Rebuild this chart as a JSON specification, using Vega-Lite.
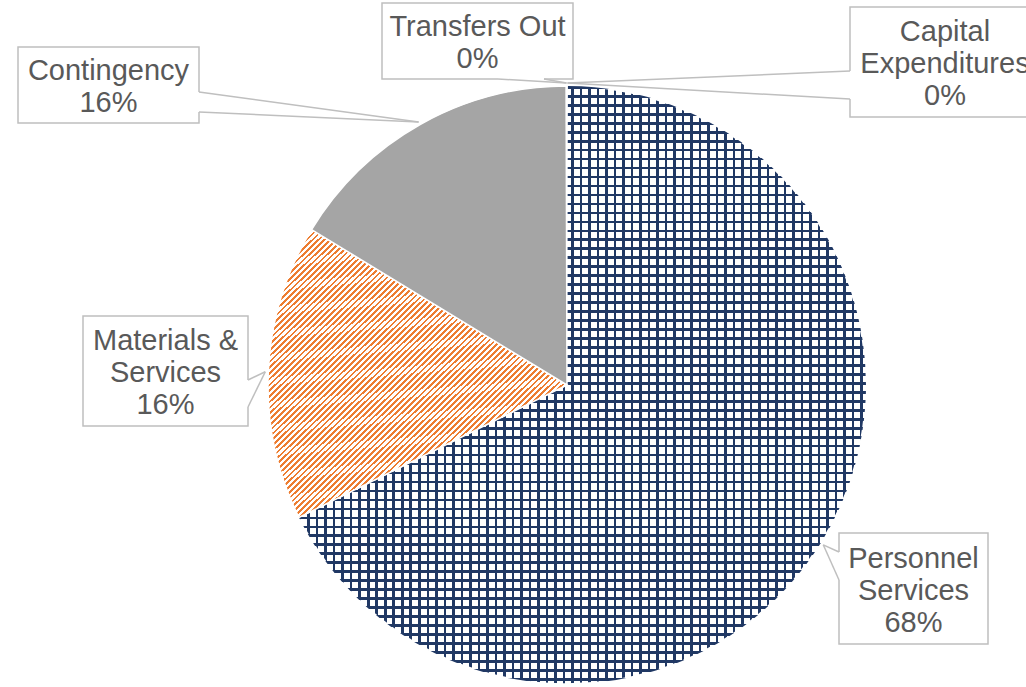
{
"$schema": "https://vega.github.io/schema/vega-lite/v6.json",
"width": 918,
"height": 604,
"padding": {"left": 108, "top": 83, "right": 0, "bottom": 0},
"autosize": {"type": "none"},
"background": "white",
"config": {"view": {"stroke": null}},
"data": {"values": [
{"category": "Capital Expenditures", "value": 0.05, "order": 1},
{"category": "Personnel Services", "value": 67.65, "order": 2},
{"category": "Materials & Services", "value": 16.0, "order": 3},
{"category": "Contingency", "value": 16.25, "order": 4},
{"category": "Transfers Out", "value": 0.05, "order": 5}
]},
"transform": [
{"stack": "value", "groupby": [], "sort": [{"field": "order", "order": "ascending"}], "offset": "normalize", "as": ["f0", "f1"]},
{"calculate": "datum.order - 1", "as": "k"},
{"calculate": "(datum.f0 + datum.f1) * PI", "as": "a"},
{"calculate": "302 * sin(datum.a)", "as": "tx"},
{"calculate": "-302 * cos(datum.a)", "as": "ty"},
{"calculate": "[378, 346.5, -401.5, -458.5, -89.5][datum.k]", "as": "bx"},
{"calculate": "[-323, 203.5, -14, -300, -344][datum.k]", "as": "by"},
{"calculate": "[190, 149, 165, 181, 191][datum.k]", "as": "bw"},
{"calculate": "[110, 111, 110, 76, 76][datum.k]", "as": "bh"},
{"calculate": "datum.bx - datum.bw / 2", "as": "bx1"},
{"calculate": "datum.bx + datum.bw / 2", "as": "bx2"},
{"calculate": "datum.by - datum.bh / 2", "as": "by1"},
{"calculate": "datum.by + datum.bh / 2", "as": "by2"},
{"calculate": "[283, 272, -319, -368, -69][datum.k]", "as": "p1x"},
{"calculate": "[-314, 167, -5, -293, -306][datum.k]", "as": "p1y"},
{"calculate": "[283, 272, -319, -368, -23][datum.k]", "as": "p2x"},
{"calculate": "[-286, 195, 22, -273, -306][datum.k]", "as": "p2y"},
{"calculate": "datum.by - (length(datum.category) > 13 ? 30 : 14)", "as": "ly"},
{"calculate": "(length(datum.category) > 13 ? slice(datum.category, 0, lastindexof(datum.category, ' ')) + '\\n' + slice(datum.category, lastindexof(datum.category, ' ') + 1) : datum.category) + '\\n' + format(datum.f1 - datum.f0, '.0%')", "as": "lbl"}
],
"layer": [
{
"transform": [{"filter": "datum.category === 'Personnel Services'"}],
"mark": {"type": "arc", "radius": 299, "stroke": "#ffffff", "strokeWidth": 1.5, "fill": {"gradient": "linear", "x1": 0, "y1": 0, "x2": 1, "y2": 0, "stops": [
{"offset":0,"color":"#203864"},{"offset":0.0045,"color":"#203864"},{"offset":0.0045,"color":"#fff"},{"offset":0.015,"color":"#fff"},
{"offset":0.015,"color":"#203864"},{"offset":0.0195,"color":"#203864"},{"offset":0.0195,"color":"#fff"},{"offset":0.03,"color":"#fff"},
{"offset":0.03,"color":"#203864"},{"offset":0.0345,"color":"#203864"},{"offset":0.0345,"color":"#fff"},{"offset":0.045,"color":"#fff"},
{"offset":0.045,"color":"#203864"},{"offset":0.0495,"color":"#203864"},{"offset":0.0495,"color":"#fff"},{"offset":0.06,"color":"#fff"},
{"offset":0.06,"color":"#203864"},{"offset":0.0645,"color":"#203864"},{"offset":0.0645,"color":"#fff"},{"offset":0.075,"color":"#fff"},
{"offset":0.075,"color":"#203864"},{"offset":0.0795,"color":"#203864"},{"offset":0.0795,"color":"#fff"},{"offset":0.09,"color":"#fff"},
{"offset":0.09,"color":"#203864"},{"offset":0.0945,"color":"#203864"},{"offset":0.0945,"color":"#fff"},{"offset":0.105,"color":"#fff"},
{"offset":0.105,"color":"#203864"},{"offset":0.1095,"color":"#203864"},{"offset":0.1095,"color":"#fff"},{"offset":0.12,"color":"#fff"},
{"offset":0.12,"color":"#203864"},{"offset":0.1245,"color":"#203864"},{"offset":0.1245,"color":"#fff"},{"offset":0.135,"color":"#fff"},
{"offset":0.135,"color":"#203864"},{"offset":0.1395,"color":"#203864"},{"offset":0.1395,"color":"#fff"},{"offset":0.15,"color":"#fff"},
{"offset":0.15,"color":"#203864"},{"offset":0.1545,"color":"#203864"},{"offset":0.1545,"color":"#fff"},{"offset":0.165,"color":"#fff"},
{"offset":0.165,"color":"#203864"},{"offset":0.1695,"color":"#203864"},{"offset":0.1695,"color":"#fff"},{"offset":0.18,"color":"#fff"},
{"offset":0.18,"color":"#203864"},{"offset":0.1845,"color":"#203864"},{"offset":0.1845,"color":"#fff"},{"offset":0.195,"color":"#fff"},
{"offset":0.195,"color":"#203864"},{"offset":0.1995,"color":"#203864"},{"offset":0.1995,"color":"#fff"},{"offset":0.21,"color":"#fff"},
{"offset":0.21,"color":"#203864"},{"offset":0.2145,"color":"#203864"},{"offset":0.2145,"color":"#fff"},{"offset":0.225,"color":"#fff"},
{"offset":0.225,"color":"#203864"},{"offset":0.2295,"color":"#203864"},{"offset":0.2295,"color":"#fff"},{"offset":0.24,"color":"#fff"},
{"offset":0.24,"color":"#203864"},{"offset":0.2445,"color":"#203864"},{"offset":0.2445,"color":"#fff"},{"offset":0.255,"color":"#fff"},
{"offset":0.255,"color":"#203864"},{"offset":0.2595,"color":"#203864"},{"offset":0.2595,"color":"#fff"},{"offset":0.27,"color":"#fff"},
{"offset":0.27,"color":"#203864"},{"offset":0.2745,"color":"#203864"},{"offset":0.2745,"color":"#fff"},{"offset":0.285,"color":"#fff"},
{"offset":0.285,"color":"#203864"},{"offset":0.2895,"color":"#203864"},{"offset":0.2895,"color":"#fff"},{"offset":0.3,"color":"#fff"},
{"offset":0.3,"color":"#203864"},{"offset":0.3045,"color":"#203864"},{"offset":0.3045,"color":"#fff"},{"offset":0.315,"color":"#fff"},
{"offset":0.315,"color":"#203864"},{"offset":0.3195,"color":"#203864"},{"offset":0.3195,"color":"#fff"},{"offset":0.33,"color":"#fff"},
{"offset":0.33,"color":"#203864"},{"offset":0.3345,"color":"#203864"},{"offset":0.3345,"color":"#fff"},{"offset":0.345,"color":"#fff"},
{"offset":0.345,"color":"#203864"},{"offset":0.3495,"color":"#203864"},{"offset":0.3495,"color":"#fff"},{"offset":0.36,"color":"#fff"},
{"offset":0.36,"color":"#203864"},{"offset":0.3645,"color":"#203864"},{"offset":0.3645,"color":"#fff"},{"offset":0.375,"color":"#fff"},
{"offset":0.375,"color":"#203864"},{"offset":0.3795,"color":"#203864"},{"offset":0.3795,"color":"#fff"},{"offset":0.39,"color":"#fff"},
{"offset":0.39,"color":"#203864"},{"offset":0.3945,"color":"#203864"},{"offset":0.3945,"color":"#fff"},{"offset":0.405,"color":"#fff"},
{"offset":0.405,"color":"#203864"},{"offset":0.4095,"color":"#203864"},{"offset":0.4095,"color":"#fff"},{"offset":0.42,"color":"#fff"},
{"offset":0.42,"color":"#203864"},{"offset":0.4245,"color":"#203864"},{"offset":0.4245,"color":"#fff"},{"offset":0.435,"color":"#fff"},
{"offset":0.435,"color":"#203864"},{"offset":0.4395,"color":"#203864"},{"offset":0.4395,"color":"#fff"},{"offset":0.45,"color":"#fff"},
{"offset":0.45,"color":"#203864"},{"offset":0.4545,"color":"#203864"},{"offset":0.4545,"color":"#fff"},{"offset":0.465,"color":"#fff"},
{"offset":0.465,"color":"#203864"},{"offset":0.4695,"color":"#203864"},{"offset":0.4695,"color":"#fff"},{"offset":0.48,"color":"#fff"},
{"offset":0.48,"color":"#203864"},{"offset":0.4845,"color":"#203864"},{"offset":0.4845,"color":"#fff"},{"offset":0.495,"color":"#fff"},
{"offset":0.495,"color":"#203864"},{"offset":0.4995,"color":"#203864"},{"offset":0.4995,"color":"#fff"},{"offset":0.51,"color":"#fff"},
{"offset":0.51,"color":"#203864"},{"offset":0.5145,"color":"#203864"},{"offset":0.5145,"color":"#fff"},{"offset":0.525,"color":"#fff"},
{"offset":0.525,"color":"#203864"},{"offset":0.5295,"color":"#203864"},{"offset":0.5295,"color":"#fff"},{"offset":0.54,"color":"#fff"},
{"offset":0.54,"color":"#203864"},{"offset":0.5445,"color":"#203864"},{"offset":0.5445,"color":"#fff"},{"offset":0.555,"color":"#fff"},
{"offset":0.555,"color":"#203864"},{"offset":0.5595,"color":"#203864"},{"offset":0.5595,"color":"#fff"},{"offset":0.57,"color":"#fff"},
{"offset":0.57,"color":"#203864"},{"offset":0.5745,"color":"#203864"},{"offset":0.5745,"color":"#fff"},{"offset":0.585,"color":"#fff"},
{"offset":0.585,"color":"#203864"},{"offset":0.5895,"color":"#203864"},{"offset":0.5895,"color":"#fff"},{"offset":0.6,"color":"#fff"},
{"offset":0.6,"color":"#203864"},{"offset":0.6045,"color":"#203864"},{"offset":0.6045,"color":"#fff"},{"offset":0.615,"color":"#fff"},
{"offset":0.615,"color":"#203864"},{"offset":0.6195,"color":"#203864"},{"offset":0.6195,"color":"#fff"},{"offset":0.63,"color":"#fff"},
{"offset":0.63,"color":"#203864"},{"offset":0.6345,"color":"#203864"},{"offset":0.6345,"color":"#fff"},{"offset":0.645,"color":"#fff"},
{"offset":0.645,"color":"#203864"},{"offset":0.6495,"color":"#203864"},{"offset":0.6495,"color":"#fff"},{"offset":0.66,"color":"#fff"},
{"offset":0.66,"color":"#203864"},{"offset":0.6645,"color":"#203864"},{"offset":0.6645,"color":"#fff"},{"offset":0.675,"color":"#fff"},
{"offset":0.675,"color":"#203864"},{"offset":0.6795,"color":"#203864"},{"offset":0.6795,"color":"#fff"},{"offset":0.69,"color":"#fff"},
{"offset":0.69,"color":"#203864"},{"offset":0.6945,"color":"#203864"},{"offset":0.6945,"color":"#fff"},{"offset":0.705,"color":"#fff"},
{"offset":0.705,"color":"#203864"},{"offset":0.7095,"color":"#203864"},{"offset":0.7095,"color":"#fff"},{"offset":0.72,"color":"#fff"},
{"offset":0.72,"color":"#203864"},{"offset":0.7245,"color":"#203864"},{"offset":0.7245,"color":"#fff"},{"offset":0.735,"color":"#fff"},
{"offset":0.735,"color":"#203864"},{"offset":0.7395,"color":"#203864"},{"offset":0.7395,"color":"#fff"},{"offset":0.75,"color":"#fff"},
{"offset":0.75,"color":"#203864"},{"offset":0.7545,"color":"#203864"},{"offset":0.7545,"color":"#fff"},{"offset":0.765,"color":"#fff"},
{"offset":0.765,"color":"#203864"},{"offset":0.7695,"color":"#203864"},{"offset":0.7695,"color":"#fff"},{"offset":0.78,"color":"#fff"},
{"offset":0.78,"color":"#203864"},{"offset":0.7845,"color":"#203864"},{"offset":0.7845,"color":"#fff"},{"offset":0.795,"color":"#fff"},
{"offset":0.795,"color":"#203864"},{"offset":0.7995,"color":"#203864"},{"offset":0.7995,"color":"#fff"},{"offset":0.81,"color":"#fff"},
{"offset":0.81,"color":"#203864"},{"offset":0.8145,"color":"#203864"},{"offset":0.8145,"color":"#fff"},{"offset":0.825,"color":"#fff"},
{"offset":0.825,"color":"#203864"},{"offset":0.8295,"color":"#203864"},{"offset":0.8295,"color":"#fff"},{"offset":0.84,"color":"#fff"},
{"offset":0.84,"color":"#203864"},{"offset":0.8445,"color":"#203864"},{"offset":0.8445,"color":"#fff"},{"offset":0.855,"color":"#fff"},
{"offset":0.855,"color":"#203864"},{"offset":0.8595,"color":"#203864"},{"offset":0.8595,"color":"#fff"},{"offset":0.87,"color":"#fff"},
{"offset":0.87,"color":"#203864"},{"offset":0.8745,"color":"#203864"},{"offset":0.8745,"color":"#fff"},{"offset":0.885,"color":"#fff"},
{"offset":0.885,"color":"#203864"},{"offset":0.8895,"color":"#203864"},{"offset":0.8895,"color":"#fff"},{"offset":0.9,"color":"#fff"},
{"offset":0.9,"color":"#203864"},{"offset":0.9045,"color":"#203864"},{"offset":0.9045,"color":"#fff"},{"offset":0.915,"color":"#fff"},
{"offset":0.915,"color":"#203864"},{"offset":0.9195,"color":"#203864"},{"offset":0.9195,"color":"#fff"},{"offset":0.93,"color":"#fff"},
{"offset":0.93,"color":"#203864"},{"offset":0.9345,"color":"#203864"},{"offset":0.9345,"color":"#fff"},{"offset":0.945,"color":"#fff"},
{"offset":0.945,"color":"#203864"},{"offset":0.9495,"color":"#203864"},{"offset":0.9495,"color":"#fff"},{"offset":0.96,"color":"#fff"},
{"offset":0.96,"color":"#203864"},{"offset":0.9645,"color":"#203864"},{"offset":0.9645,"color":"#fff"},{"offset":0.975,"color":"#fff"},
{"offset":0.975,"color":"#203864"},{"offset":0.9795,"color":"#203864"},{"offset":0.9795,"color":"#fff"},{"offset":0.99,"color":"#fff"},
{"offset":0.99,"color":"#203864"},{"offset":0.9945,"color":"#203864"},{"offset":0.9945,"color":"#fff"},{"offset":1,"color":"#fff"}
]}},
"encoding": {"theta": {"field": "f0", "type": "quantitative", "scale": {"domain": [0, 1]}}, "theta2": {"field": "f1"}}
},
{
"transform": [{"filter": "datum.category === 'Personnel Services'"}],
"mark": {"type": "arc", "radius": 299, "fill": {"gradient": "linear", "x1": 0, "y1": 0, "x2": 0, "y2": 1, "stops": [
{"offset":0,"color":"#203864"},{"offset":0.0045,"color":"#203864"},{"offset":0.0045,"color":"#0000"},{"offset":0.015,"color":"#0000"},
{"offset":0.015,"color":"#203864"},{"offset":0.0195,"color":"#203864"},{"offset":0.0195,"color":"#0000"},{"offset":0.03,"color":"#0000"},
{"offset":0.03,"color":"#203864"},{"offset":0.0345,"color":"#203864"},{"offset":0.0345,"color":"#0000"},{"offset":0.045,"color":"#0000"},
{"offset":0.045,"color":"#203864"},{"offset":0.0495,"color":"#203864"},{"offset":0.0495,"color":"#0000"},{"offset":0.06,"color":"#0000"},
{"offset":0.06,"color":"#203864"},{"offset":0.0645,"color":"#203864"},{"offset":0.0645,"color":"#0000"},{"offset":0.075,"color":"#0000"},
{"offset":0.075,"color":"#203864"},{"offset":0.0795,"color":"#203864"},{"offset":0.0795,"color":"#0000"},{"offset":0.09,"color":"#0000"},
{"offset":0.09,"color":"#203864"},{"offset":0.0945,"color":"#203864"},{"offset":0.0945,"color":"#0000"},{"offset":0.105,"color":"#0000"},
{"offset":0.105,"color":"#203864"},{"offset":0.1095,"color":"#203864"},{"offset":0.1095,"color":"#0000"},{"offset":0.12,"color":"#0000"},
{"offset":0.12,"color":"#203864"},{"offset":0.1245,"color":"#203864"},{"offset":0.1245,"color":"#0000"},{"offset":0.135,"color":"#0000"},
{"offset":0.135,"color":"#203864"},{"offset":0.1395,"color":"#203864"},{"offset":0.1395,"color":"#0000"},{"offset":0.15,"color":"#0000"},
{"offset":0.15,"color":"#203864"},{"offset":0.1545,"color":"#203864"},{"offset":0.1545,"color":"#0000"},{"offset":0.165,"color":"#0000"},
{"offset":0.165,"color":"#203864"},{"offset":0.1695,"color":"#203864"},{"offset":0.1695,"color":"#0000"},{"offset":0.18,"color":"#0000"},
{"offset":0.18,"color":"#203864"},{"offset":0.1845,"color":"#203864"},{"offset":0.1845,"color":"#0000"},{"offset":0.195,"color":"#0000"},
{"offset":0.195,"color":"#203864"},{"offset":0.1995,"color":"#203864"},{"offset":0.1995,"color":"#0000"},{"offset":0.21,"color":"#0000"},
{"offset":0.21,"color":"#203864"},{"offset":0.2145,"color":"#203864"},{"offset":0.2145,"color":"#0000"},{"offset":0.225,"color":"#0000"},
{"offset":0.225,"color":"#203864"},{"offset":0.2295,"color":"#203864"},{"offset":0.2295,"color":"#0000"},{"offset":0.24,"color":"#0000"},
{"offset":0.24,"color":"#203864"},{"offset":0.2445,"color":"#203864"},{"offset":0.2445,"color":"#0000"},{"offset":0.255,"color":"#0000"},
{"offset":0.255,"color":"#203864"},{"offset":0.2595,"color":"#203864"},{"offset":0.2595,"color":"#0000"},{"offset":0.27,"color":"#0000"},
{"offset":0.27,"color":"#203864"},{"offset":0.2745,"color":"#203864"},{"offset":0.2745,"color":"#0000"},{"offset":0.285,"color":"#0000"},
{"offset":0.285,"color":"#203864"},{"offset":0.2895,"color":"#203864"},{"offset":0.2895,"color":"#0000"},{"offset":0.3,"color":"#0000"},
{"offset":0.3,"color":"#203864"},{"offset":0.3045,"color":"#203864"},{"offset":0.3045,"color":"#0000"},{"offset":0.315,"color":"#0000"},
{"offset":0.315,"color":"#203864"},{"offset":0.3195,"color":"#203864"},{"offset":0.3195,"color":"#0000"},{"offset":0.33,"color":"#0000"},
{"offset":0.33,"color":"#203864"},{"offset":0.3345,"color":"#203864"},{"offset":0.3345,"color":"#0000"},{"offset":0.345,"color":"#0000"},
{"offset":0.345,"color":"#203864"},{"offset":0.3495,"color":"#203864"},{"offset":0.3495,"color":"#0000"},{"offset":0.36,"color":"#0000"},
{"offset":0.36,"color":"#203864"},{"offset":0.3645,"color":"#203864"},{"offset":0.3645,"color":"#0000"},{"offset":0.375,"color":"#0000"},
{"offset":0.375,"color":"#203864"},{"offset":0.3795,"color":"#203864"},{"offset":0.3795,"color":"#0000"},{"offset":0.39,"color":"#0000"},
{"offset":0.39,"color":"#203864"},{"offset":0.3945,"color":"#203864"},{"offset":0.3945,"color":"#0000"},{"offset":0.405,"color":"#0000"},
{"offset":0.405,"color":"#203864"},{"offset":0.4095,"color":"#203864"},{"offset":0.4095,"color":"#0000"},{"offset":0.42,"color":"#0000"},
{"offset":0.42,"color":"#203864"},{"offset":0.4245,"color":"#203864"},{"offset":0.4245,"color":"#0000"},{"offset":0.435,"color":"#0000"},
{"offset":0.435,"color":"#203864"},{"offset":0.4395,"color":"#203864"},{"offset":0.4395,"color":"#0000"},{"offset":0.45,"color":"#0000"},
{"offset":0.45,"color":"#203864"},{"offset":0.4545,"color":"#203864"},{"offset":0.4545,"color":"#0000"},{"offset":0.465,"color":"#0000"},
{"offset":0.465,"color":"#203864"},{"offset":0.4695,"color":"#203864"},{"offset":0.4695,"color":"#0000"},{"offset":0.48,"color":"#0000"},
{"offset":0.48,"color":"#203864"},{"offset":0.4845,"color":"#203864"},{"offset":0.4845,"color":"#0000"},{"offset":0.495,"color":"#0000"},
{"offset":0.495,"color":"#203864"},{"offset":0.4995,"color":"#203864"},{"offset":0.4995,"color":"#0000"},{"offset":0.51,"color":"#0000"},
{"offset":0.51,"color":"#203864"},{"offset":0.5145,"color":"#203864"},{"offset":0.5145,"color":"#0000"},{"offset":0.525,"color":"#0000"},
{"offset":0.525,"color":"#203864"},{"offset":0.5295,"color":"#203864"},{"offset":0.5295,"color":"#0000"},{"offset":0.54,"color":"#0000"},
{"offset":0.54,"color":"#203864"},{"offset":0.5445,"color":"#203864"},{"offset":0.5445,"color":"#0000"},{"offset":0.555,"color":"#0000"},
{"offset":0.555,"color":"#203864"},{"offset":0.5595,"color":"#203864"},{"offset":0.5595,"color":"#0000"},{"offset":0.57,"color":"#0000"},
{"offset":0.57,"color":"#203864"},{"offset":0.5745,"color":"#203864"},{"offset":0.5745,"color":"#0000"},{"offset":0.585,"color":"#0000"},
{"offset":0.585,"color":"#203864"},{"offset":0.5895,"color":"#203864"},{"offset":0.5895,"color":"#0000"},{"offset":0.6,"color":"#0000"},
{"offset":0.6,"color":"#203864"},{"offset":0.6045,"color":"#203864"},{"offset":0.6045,"color":"#0000"},{"offset":0.615,"color":"#0000"},
{"offset":0.615,"color":"#203864"},{"offset":0.6195,"color":"#203864"},{"offset":0.6195,"color":"#0000"},{"offset":0.63,"color":"#0000"},
{"offset":0.63,"color":"#203864"},{"offset":0.6345,"color":"#203864"},{"offset":0.6345,"color":"#0000"},{"offset":0.645,"color":"#0000"},
{"offset":0.645,"color":"#203864"},{"offset":0.6495,"color":"#203864"},{"offset":0.6495,"color":"#0000"},{"offset":0.66,"color":"#0000"},
{"offset":0.66,"color":"#203864"},{"offset":0.6645,"color":"#203864"},{"offset":0.6645,"color":"#0000"},{"offset":0.675,"color":"#0000"},
{"offset":0.675,"color":"#203864"},{"offset":0.6795,"color":"#203864"},{"offset":0.6795,"color":"#0000"},{"offset":0.69,"color":"#0000"},
{"offset":0.69,"color":"#203864"},{"offset":0.6945,"color":"#203864"},{"offset":0.6945,"color":"#0000"},{"offset":0.705,"color":"#0000"},
{"offset":0.705,"color":"#203864"},{"offset":0.7095,"color":"#203864"},{"offset":0.7095,"color":"#0000"},{"offset":0.72,"color":"#0000"},
{"offset":0.72,"color":"#203864"},{"offset":0.7245,"color":"#203864"},{"offset":0.7245,"color":"#0000"},{"offset":0.735,"color":"#0000"},
{"offset":0.735,"color":"#203864"},{"offset":0.7395,"color":"#203864"},{"offset":0.7395,"color":"#0000"},{"offset":0.75,"color":"#0000"},
{"offset":0.75,"color":"#203864"},{"offset":0.7545,"color":"#203864"},{"offset":0.7545,"color":"#0000"},{"offset":0.765,"color":"#0000"},
{"offset":0.765,"color":"#203864"},{"offset":0.7695,"color":"#203864"},{"offset":0.7695,"color":"#0000"},{"offset":0.78,"color":"#0000"},
{"offset":0.78,"color":"#203864"},{"offset":0.7845,"color":"#203864"},{"offset":0.7845,"color":"#0000"},{"offset":0.795,"color":"#0000"},
{"offset":0.795,"color":"#203864"},{"offset":0.7995,"color":"#203864"},{"offset":0.7995,"color":"#0000"},{"offset":0.81,"color":"#0000"},
{"offset":0.81,"color":"#203864"},{"offset":0.8145,"color":"#203864"},{"offset":0.8145,"color":"#0000"},{"offset":0.825,"color":"#0000"},
{"offset":0.825,"color":"#203864"},{"offset":0.8295,"color":"#203864"},{"offset":0.8295,"color":"#0000"},{"offset":0.84,"color":"#0000"},
{"offset":0.84,"color":"#203864"},{"offset":0.8445,"color":"#203864"},{"offset":0.8445,"color":"#0000"},{"offset":0.855,"color":"#0000"},
{"offset":0.855,"color":"#203864"},{"offset":0.8595,"color":"#203864"},{"offset":0.8595,"color":"#0000"},{"offset":0.87,"color":"#0000"},
{"offset":0.87,"color":"#203864"},{"offset":0.8745,"color":"#203864"},{"offset":0.8745,"color":"#0000"},{"offset":0.885,"color":"#0000"},
{"offset":0.885,"color":"#203864"},{"offset":0.8895,"color":"#203864"},{"offset":0.8895,"color":"#0000"},{"offset":0.9,"color":"#0000"},
{"offset":0.9,"color":"#203864"},{"offset":0.9045,"color":"#203864"},{"offset":0.9045,"color":"#0000"},{"offset":0.915,"color":"#0000"},
{"offset":0.915,"color":"#203864"},{"offset":0.9195,"color":"#203864"},{"offset":0.9195,"color":"#0000"},{"offset":0.93,"color":"#0000"},
{"offset":0.93,"color":"#203864"},{"offset":0.9345,"color":"#203864"},{"offset":0.9345,"color":"#0000"},{"offset":0.945,"color":"#0000"},
{"offset":0.945,"color":"#203864"},{"offset":0.9495,"color":"#203864"},{"offset":0.9495,"color":"#0000"},{"offset":0.96,"color":"#0000"},
{"offset":0.96,"color":"#203864"},{"offset":0.9645,"color":"#203864"},{"offset":0.9645,"color":"#0000"},{"offset":0.975,"color":"#0000"},
{"offset":0.975,"color":"#203864"},{"offset":0.9795,"color":"#203864"},{"offset":0.9795,"color":"#0000"},{"offset":0.99,"color":"#0000"},
{"offset":0.99,"color":"#203864"},{"offset":0.9945,"color":"#203864"},{"offset":0.9945,"color":"#0000"},{"offset":1,"color":"#0000"}
]}},
"encoding": {"theta": {"field": "f0", "type": "quantitative", "scale": {"domain": [0, 1]}}, "theta2": {"field": "f1"}}
},
{
"transform": [{"filter": "datum.category === 'Materials & Services'"}],
"mark": {"type": "arc", "radius": 299, "stroke": "#ffffff", "strokeWidth": 1.5, "fill": {"gradient": "linear", "x1": 0, "y1": 0, "x2": 1, "y2": 1, "stops": [
{"offset":0,"color":"#ed7d31"},{"offset":0.0045,"color":"#ed7d31"},{"offset":0.0045,"color":"#fff"},{"offset":0.01,"color":"#fff"},
{"offset":0.01,"color":"#ed7d31"},{"offset":0.0145,"color":"#ed7d31"},{"offset":0.0145,"color":"#fff"},{"offset":0.02,"color":"#fff"},
{"offset":0.02,"color":"#ed7d31"},{"offset":0.0245,"color":"#ed7d31"},{"offset":0.0245,"color":"#fff"},{"offset":0.03,"color":"#fff"},
{"offset":0.03,"color":"#ed7d31"},{"offset":0.0345,"color":"#ed7d31"},{"offset":0.0345,"color":"#fff"},{"offset":0.04,"color":"#fff"},
{"offset":0.04,"color":"#ed7d31"},{"offset":0.0445,"color":"#ed7d31"},{"offset":0.0445,"color":"#fff"},{"offset":0.05,"color":"#fff"},
{"offset":0.05,"color":"#ed7d31"},{"offset":0.0545,"color":"#ed7d31"},{"offset":0.0545,"color":"#fff"},{"offset":0.06,"color":"#fff"},
{"offset":0.06,"color":"#ed7d31"},{"offset":0.0645,"color":"#ed7d31"},{"offset":0.0645,"color":"#fff"},{"offset":0.07,"color":"#fff"},
{"offset":0.07,"color":"#ed7d31"},{"offset":0.0745,"color":"#ed7d31"},{"offset":0.0745,"color":"#fff"},{"offset":0.08,"color":"#fff"},
{"offset":0.08,"color":"#ed7d31"},{"offset":0.0845,"color":"#ed7d31"},{"offset":0.0845,"color":"#fff"},{"offset":0.09,"color":"#fff"},
{"offset":0.09,"color":"#ed7d31"},{"offset":0.0945,"color":"#ed7d31"},{"offset":0.0945,"color":"#fff"},{"offset":0.1,"color":"#fff"},
{"offset":0.1,"color":"#ed7d31"},{"offset":0.1045,"color":"#ed7d31"},{"offset":0.1045,"color":"#fff"},{"offset":0.11,"color":"#fff"},
{"offset":0.11,"color":"#ed7d31"},{"offset":0.1145,"color":"#ed7d31"},{"offset":0.1145,"color":"#fff"},{"offset":0.12,"color":"#fff"},
{"offset":0.12,"color":"#ed7d31"},{"offset":0.1245,"color":"#ed7d31"},{"offset":0.1245,"color":"#fff"},{"offset":0.13,"color":"#fff"},
{"offset":0.13,"color":"#ed7d31"},{"offset":0.1345,"color":"#ed7d31"},{"offset":0.1345,"color":"#fff"},{"offset":0.14,"color":"#fff"},
{"offset":0.14,"color":"#ed7d31"},{"offset":0.1445,"color":"#ed7d31"},{"offset":0.1445,"color":"#fff"},{"offset":0.15,"color":"#fff"},
{"offset":0.15,"color":"#ed7d31"},{"offset":0.1545,"color":"#ed7d31"},{"offset":0.1545,"color":"#fff"},{"offset":0.16,"color":"#fff"},
{"offset":0.16,"color":"#ed7d31"},{"offset":0.1645,"color":"#ed7d31"},{"offset":0.1645,"color":"#fff"},{"offset":0.17,"color":"#fff"},
{"offset":0.17,"color":"#ed7d31"},{"offset":0.1745,"color":"#ed7d31"},{"offset":0.1745,"color":"#fff"},{"offset":0.18,"color":"#fff"},
{"offset":0.18,"color":"#ed7d31"},{"offset":0.1845,"color":"#ed7d31"},{"offset":0.1845,"color":"#fff"},{"offset":0.19,"color":"#fff"},
{"offset":0.19,"color":"#ed7d31"},{"offset":0.1945,"color":"#ed7d31"},{"offset":0.1945,"color":"#fff"},{"offset":0.2,"color":"#fff"},
{"offset":0.2,"color":"#ed7d31"},{"offset":0.2045,"color":"#ed7d31"},{"offset":0.2045,"color":"#fff"},{"offset":0.21,"color":"#fff"},
{"offset":0.21,"color":"#ed7d31"},{"offset":0.2145,"color":"#ed7d31"},{"offset":0.2145,"color":"#fff"},{"offset":0.22,"color":"#fff"},
{"offset":0.22,"color":"#ed7d31"},{"offset":0.2245,"color":"#ed7d31"},{"offset":0.2245,"color":"#fff"},{"offset":0.23,"color":"#fff"},
{"offset":0.23,"color":"#ed7d31"},{"offset":0.2345,"color":"#ed7d31"},{"offset":0.2345,"color":"#fff"},{"offset":0.24,"color":"#fff"},
{"offset":0.24,"color":"#ed7d31"},{"offset":0.2445,"color":"#ed7d31"},{"offset":0.2445,"color":"#fff"},{"offset":0.25,"color":"#fff"},
{"offset":0.25,"color":"#ed7d31"},{"offset":0.2545,"color":"#ed7d31"},{"offset":0.2545,"color":"#fff"},{"offset":0.26,"color":"#fff"},
{"offset":0.26,"color":"#ed7d31"},{"offset":0.2645,"color":"#ed7d31"},{"offset":0.2645,"color":"#fff"},{"offset":0.27,"color":"#fff"},
{"offset":0.27,"color":"#ed7d31"},{"offset":0.2745,"color":"#ed7d31"},{"offset":0.2745,"color":"#fff"},{"offset":0.28,"color":"#fff"},
{"offset":0.28,"color":"#ed7d31"},{"offset":0.2845,"color":"#ed7d31"},{"offset":0.2845,"color":"#fff"},{"offset":0.29,"color":"#fff"},
{"offset":0.29,"color":"#ed7d31"},{"offset":0.2945,"color":"#ed7d31"},{"offset":0.2945,"color":"#fff"},{"offset":0.3,"color":"#fff"},
{"offset":0.3,"color":"#ed7d31"},{"offset":0.3045,"color":"#ed7d31"},{"offset":0.3045,"color":"#fff"},{"offset":0.31,"color":"#fff"},
{"offset":0.31,"color":"#ed7d31"},{"offset":0.3145,"color":"#ed7d31"},{"offset":0.3145,"color":"#fff"},{"offset":0.32,"color":"#fff"},
{"offset":0.32,"color":"#ed7d31"},{"offset":0.3245,"color":"#ed7d31"},{"offset":0.3245,"color":"#fff"},{"offset":0.33,"color":"#fff"},
{"offset":0.33,"color":"#ed7d31"},{"offset":0.3345,"color":"#ed7d31"},{"offset":0.3345,"color":"#fff"},{"offset":0.34,"color":"#fff"},
{"offset":0.34,"color":"#ed7d31"},{"offset":0.3445,"color":"#ed7d31"},{"offset":0.3445,"color":"#fff"},{"offset":0.35,"color":"#fff"},
{"offset":0.35,"color":"#ed7d31"},{"offset":0.3545,"color":"#ed7d31"},{"offset":0.3545,"color":"#fff"},{"offset":0.36,"color":"#fff"},
{"offset":0.36,"color":"#ed7d31"},{"offset":0.3645,"color":"#ed7d31"},{"offset":0.3645,"color":"#fff"},{"offset":0.37,"color":"#fff"},
{"offset":0.37,"color":"#ed7d31"},{"offset":0.3745,"color":"#ed7d31"},{"offset":0.3745,"color":"#fff"},{"offset":0.38,"color":"#fff"},
{"offset":0.38,"color":"#ed7d31"},{"offset":0.3845,"color":"#ed7d31"},{"offset":0.3845,"color":"#fff"},{"offset":0.39,"color":"#fff"},
{"offset":0.39,"color":"#ed7d31"},{"offset":0.3945,"color":"#ed7d31"},{"offset":0.3945,"color":"#fff"},{"offset":0.4,"color":"#fff"},
{"offset":0.4,"color":"#ed7d31"},{"offset":0.4045,"color":"#ed7d31"},{"offset":0.4045,"color":"#fff"},{"offset":0.41,"color":"#fff"},
{"offset":0.41,"color":"#ed7d31"},{"offset":0.4145,"color":"#ed7d31"},{"offset":0.4145,"color":"#fff"},{"offset":0.42,"color":"#fff"},
{"offset":0.42,"color":"#ed7d31"},{"offset":0.4245,"color":"#ed7d31"},{"offset":0.4245,"color":"#fff"},{"offset":0.43,"color":"#fff"},
{"offset":0.43,"color":"#ed7d31"},{"offset":0.4345,"color":"#ed7d31"},{"offset":0.4345,"color":"#fff"},{"offset":0.44,"color":"#fff"},
{"offset":0.44,"color":"#ed7d31"},{"offset":0.4445,"color":"#ed7d31"},{"offset":0.4445,"color":"#fff"},{"offset":0.45,"color":"#fff"},
{"offset":0.45,"color":"#ed7d31"},{"offset":0.4545,"color":"#ed7d31"},{"offset":0.4545,"color":"#fff"},{"offset":0.46,"color":"#fff"},
{"offset":0.46,"color":"#ed7d31"},{"offset":0.4645,"color":"#ed7d31"},{"offset":0.4645,"color":"#fff"},{"offset":0.47,"color":"#fff"},
{"offset":0.47,"color":"#ed7d31"},{"offset":0.4745,"color":"#ed7d31"},{"offset":0.4745,"color":"#fff"},{"offset":0.48,"color":"#fff"},
{"offset":0.48,"color":"#ed7d31"},{"offset":0.4845,"color":"#ed7d31"},{"offset":0.4845,"color":"#fff"},{"offset":0.49,"color":"#fff"},
{"offset":0.49,"color":"#ed7d31"},{"offset":0.4945,"color":"#ed7d31"},{"offset":0.4945,"color":"#fff"},{"offset":0.5,"color":"#fff"},
{"offset":0.5,"color":"#ed7d31"},{"offset":0.5045,"color":"#ed7d31"},{"offset":0.5045,"color":"#fff"},{"offset":0.51,"color":"#fff"},
{"offset":0.51,"color":"#ed7d31"},{"offset":0.5145,"color":"#ed7d31"},{"offset":0.5145,"color":"#fff"},{"offset":0.52,"color":"#fff"},
{"offset":0.52,"color":"#ed7d31"},{"offset":0.5245,"color":"#ed7d31"},{"offset":0.5245,"color":"#fff"},{"offset":0.53,"color":"#fff"},
{"offset":0.53,"color":"#ed7d31"},{"offset":0.5345,"color":"#ed7d31"},{"offset":0.5345,"color":"#fff"},{"offset":0.54,"color":"#fff"},
{"offset":0.54,"color":"#ed7d31"},{"offset":0.5445,"color":"#ed7d31"},{"offset":0.5445,"color":"#fff"},{"offset":0.55,"color":"#fff"},
{"offset":0.55,"color":"#ed7d31"},{"offset":0.5545,"color":"#ed7d31"},{"offset":0.5545,"color":"#fff"},{"offset":0.56,"color":"#fff"},
{"offset":0.56,"color":"#ed7d31"},{"offset":0.5645,"color":"#ed7d31"},{"offset":0.5645,"color":"#fff"},{"offset":0.57,"color":"#fff"},
{"offset":0.57,"color":"#ed7d31"},{"offset":0.5745,"color":"#ed7d31"},{"offset":0.5745,"color":"#fff"},{"offset":0.58,"color":"#fff"},
{"offset":0.58,"color":"#ed7d31"},{"offset":0.5845,"color":"#ed7d31"},{"offset":0.5845,"color":"#fff"},{"offset":0.59,"color":"#fff"},
{"offset":0.59,"color":"#ed7d31"},{"offset":0.5945,"color":"#ed7d31"},{"offset":0.5945,"color":"#fff"},{"offset":0.6,"color":"#fff"},
{"offset":0.6,"color":"#ed7d31"},{"offset":0.6045,"color":"#ed7d31"},{"offset":0.6045,"color":"#fff"},{"offset":0.61,"color":"#fff"},
{"offset":0.61,"color":"#ed7d31"},{"offset":0.6145,"color":"#ed7d31"},{"offset":0.6145,"color":"#fff"},{"offset":0.62,"color":"#fff"},
{"offset":0.62,"color":"#ed7d31"},{"offset":0.6245,"color":"#ed7d31"},{"offset":0.6245,"color":"#fff"},{"offset":0.63,"color":"#fff"},
{"offset":0.63,"color":"#ed7d31"},{"offset":0.6345,"color":"#ed7d31"},{"offset":0.6345,"color":"#fff"},{"offset":0.64,"color":"#fff"},
{"offset":0.64,"color":"#ed7d31"},{"offset":0.6445,"color":"#ed7d31"},{"offset":0.6445,"color":"#fff"},{"offset":0.65,"color":"#fff"},
{"offset":0.65,"color":"#ed7d31"},{"offset":0.6545,"color":"#ed7d31"},{"offset":0.6545,"color":"#fff"},{"offset":0.66,"color":"#fff"},
{"offset":0.66,"color":"#ed7d31"},{"offset":0.6645,"color":"#ed7d31"},{"offset":0.6645,"color":"#fff"},{"offset":0.67,"color":"#fff"},
{"offset":0.67,"color":"#ed7d31"},{"offset":0.6745,"color":"#ed7d31"},{"offset":0.6745,"color":"#fff"},{"offset":0.68,"color":"#fff"},
{"offset":0.68,"color":"#ed7d31"},{"offset":0.6845,"color":"#ed7d31"},{"offset":0.6845,"color":"#fff"},{"offset":0.69,"color":"#fff"},
{"offset":0.69,"color":"#ed7d31"},{"offset":0.6945,"color":"#ed7d31"},{"offset":0.6945,"color":"#fff"},{"offset":0.7,"color":"#fff"},
{"offset":0.7,"color":"#ed7d31"},{"offset":0.7045,"color":"#ed7d31"},{"offset":0.7045,"color":"#fff"},{"offset":0.71,"color":"#fff"},
{"offset":0.71,"color":"#ed7d31"},{"offset":0.7145,"color":"#ed7d31"},{"offset":0.7145,"color":"#fff"},{"offset":0.72,"color":"#fff"},
{"offset":0.72,"color":"#ed7d31"},{"offset":0.7245,"color":"#ed7d31"},{"offset":0.7245,"color":"#fff"},{"offset":0.73,"color":"#fff"},
{"offset":0.73,"color":"#ed7d31"},{"offset":0.7345,"color":"#ed7d31"},{"offset":0.7345,"color":"#fff"},{"offset":0.74,"color":"#fff"},
{"offset":0.74,"color":"#ed7d31"},{"offset":0.7445,"color":"#ed7d31"},{"offset":0.7445,"color":"#fff"},{"offset":0.75,"color":"#fff"},
{"offset":0.75,"color":"#ed7d31"},{"offset":0.7545,"color":"#ed7d31"},{"offset":0.7545,"color":"#fff"},{"offset":0.76,"color":"#fff"},
{"offset":0.76,"color":"#ed7d31"},{"offset":0.7645,"color":"#ed7d31"},{"offset":0.7645,"color":"#fff"},{"offset":0.77,"color":"#fff"},
{"offset":0.77,"color":"#ed7d31"},{"offset":0.7745,"color":"#ed7d31"},{"offset":0.7745,"color":"#fff"},{"offset":0.78,"color":"#fff"},
{"offset":0.78,"color":"#ed7d31"},{"offset":0.7845,"color":"#ed7d31"},{"offset":0.7845,"color":"#fff"},{"offset":0.79,"color":"#fff"},
{"offset":0.79,"color":"#ed7d31"},{"offset":0.7945,"color":"#ed7d31"},{"offset":0.7945,"color":"#fff"},{"offset":0.8,"color":"#fff"},
{"offset":0.8,"color":"#ed7d31"},{"offset":0.8045,"color":"#ed7d31"},{"offset":0.8045,"color":"#fff"},{"offset":0.81,"color":"#fff"},
{"offset":0.81,"color":"#ed7d31"},{"offset":0.8145,"color":"#ed7d31"},{"offset":0.8145,"color":"#fff"},{"offset":0.82,"color":"#fff"},
{"offset":0.82,"color":"#ed7d31"},{"offset":0.8245,"color":"#ed7d31"},{"offset":0.8245,"color":"#fff"},{"offset":0.83,"color":"#fff"},
{"offset":0.83,"color":"#ed7d31"},{"offset":0.8345,"color":"#ed7d31"},{"offset":0.8345,"color":"#fff"},{"offset":0.84,"color":"#fff"},
{"offset":0.84,"color":"#ed7d31"},{"offset":0.8445,"color":"#ed7d31"},{"offset":0.8445,"color":"#fff"},{"offset":0.85,"color":"#fff"},
{"offset":0.85,"color":"#ed7d31"},{"offset":0.8545,"color":"#ed7d31"},{"offset":0.8545,"color":"#fff"},{"offset":0.86,"color":"#fff"},
{"offset":0.86,"color":"#ed7d31"},{"offset":0.8645,"color":"#ed7d31"},{"offset":0.8645,"color":"#fff"},{"offset":0.87,"color":"#fff"},
{"offset":0.87,"color":"#ed7d31"},{"offset":0.8745,"color":"#ed7d31"},{"offset":0.8745,"color":"#fff"},{"offset":0.88,"color":"#fff"},
{"offset":0.88,"color":"#ed7d31"},{"offset":0.8845,"color":"#ed7d31"},{"offset":0.8845,"color":"#fff"},{"offset":0.89,"color":"#fff"},
{"offset":0.89,"color":"#ed7d31"},{"offset":0.8945,"color":"#ed7d31"},{"offset":0.8945,"color":"#fff"},{"offset":0.9,"color":"#fff"},
{"offset":0.9,"color":"#ed7d31"},{"offset":0.9045,"color":"#ed7d31"},{"offset":0.9045,"color":"#fff"},{"offset":0.91,"color":"#fff"},
{"offset":0.91,"color":"#ed7d31"},{"offset":0.9145,"color":"#ed7d31"},{"offset":0.9145,"color":"#fff"},{"offset":0.92,"color":"#fff"},
{"offset":0.92,"color":"#ed7d31"},{"offset":0.9245,"color":"#ed7d31"},{"offset":0.9245,"color":"#fff"},{"offset":0.93,"color":"#fff"},
{"offset":0.93,"color":"#ed7d31"},{"offset":0.9345,"color":"#ed7d31"},{"offset":0.9345,"color":"#fff"},{"offset":0.94,"color":"#fff"},
{"offset":0.94,"color":"#ed7d31"},{"offset":0.9445,"color":"#ed7d31"},{"offset":0.9445,"color":"#fff"},{"offset":0.95,"color":"#fff"},
{"offset":0.95,"color":"#ed7d31"},{"offset":0.9545,"color":"#ed7d31"},{"offset":0.9545,"color":"#fff"},{"offset":0.96,"color":"#fff"},
{"offset":0.96,"color":"#ed7d31"},{"offset":0.9645,"color":"#ed7d31"},{"offset":0.9645,"color":"#fff"},{"offset":0.97,"color":"#fff"},
{"offset":0.97,"color":"#ed7d31"},{"offset":0.9745,"color":"#ed7d31"},{"offset":0.9745,"color":"#fff"},{"offset":0.98,"color":"#fff"},
{"offset":0.98,"color":"#ed7d31"},{"offset":0.9845,"color":"#ed7d31"},{"offset":0.9845,"color":"#fff"},{"offset":0.99,"color":"#fff"},
{"offset":0.99,"color":"#ed7d31"},{"offset":0.9945,"color":"#ed7d31"},{"offset":0.9945,"color":"#fff"},{"offset":1,"color":"#fff"}
]}},
"encoding": {"theta": {"field": "f0", "type": "quantitative", "scale": {"domain": [0, 1]}}, "theta2": {"field": "f1"}}
},
{
"transform": [{"filter": "datum.category === 'Contingency'"}],
"mark": {"type": "arc", "radius": 299, "stroke": "#ffffff", "strokeWidth": 1.5, "fill": "#a5a5a5"},
"encoding": {"theta": {"field": "f0", "type": "quantitative", "scale": {"domain": [0, 1]}}, "theta2": {"field": "f1"}}
},
{
"mark": {"type": "rect", "fill": "#ffffff", "stroke": "#bfbfbf", "strokeWidth": 1.5},
"encoding": {
"x": {"field": "bx1", "type": "quantitative", "scale": {"domain": [-459, 459], "nice": false, "zero": false}, "axis": null},
"x2": {"field": "bx2"},
"y": {"field": "by1", "type": "quantitative", "scale": {"domain": [-302, 302], "nice": false, "zero": false, "reverse": true}, "axis": null},
"y2": {"field": "by2"}
}
},
{
"mark": {"type": "rule", "stroke": "#ffffff", "strokeWidth": 3},
"encoding": {
"x": {"field": "p1x", "type": "quantitative", "scale": {"domain": [-459, 459], "nice": false, "zero": false}, "axis": null},
"y": {"field": "p1y", "type": "quantitative", "scale": {"domain": [-302, 302], "nice": false, "zero": false, "reverse": true}, "axis": null},
"x2": {"field": "p2x"},
"y2": {"field": "p2y"}
}
},
{
"mark": {"type": "rule", "stroke": "#bfbfbf", "strokeWidth": 1.5},
"encoding": {
"x": {"field": "p1x", "type": "quantitative", "scale": {"domain": [-459, 459], "nice": false, "zero": false}, "axis": null},
"y": {"field": "p1y", "type": "quantitative", "scale": {"domain": [-302, 302], "nice": false, "zero": false, "reverse": true}, "axis": null},
"x2": {"field": "tx"},
"y2": {"field": "ty"}
}
},
{
"mark": {"type": "rule", "stroke": "#bfbfbf", "strokeWidth": 1.5},
"encoding": {
"x": {"field": "p2x", "type": "quantitative", "scale": {"domain": [-459, 459], "nice": false, "zero": false}, "axis": null},
"y": {"field": "p2y", "type": "quantitative", "scale": {"domain": [-302, 302], "nice": false, "zero": false, "reverse": true}, "axis": null},
"x2": {"field": "tx"},
"y2": {"field": "ty"}
}
},
{
"mark": {"type": "text", "align": "center", "baseline": "middle", "lineBreak": "\n", "lineHeight": 32, "font": "Liberation Sans", "fontSize": 29, "fill": "#595959"},
"encoding": {
"x": {"field": "bx", "type": "quantitative", "scale": {"domain": [-459, 459], "nice": false, "zero": false}, "axis": null},
"y": {"field": "ly", "type": "quantitative", "scale": {"domain": [-302, 302], "nice": false, "zero": false, "reverse": true}, "axis": null},
"text": {"field": "lbl"}
}
}
]
}
